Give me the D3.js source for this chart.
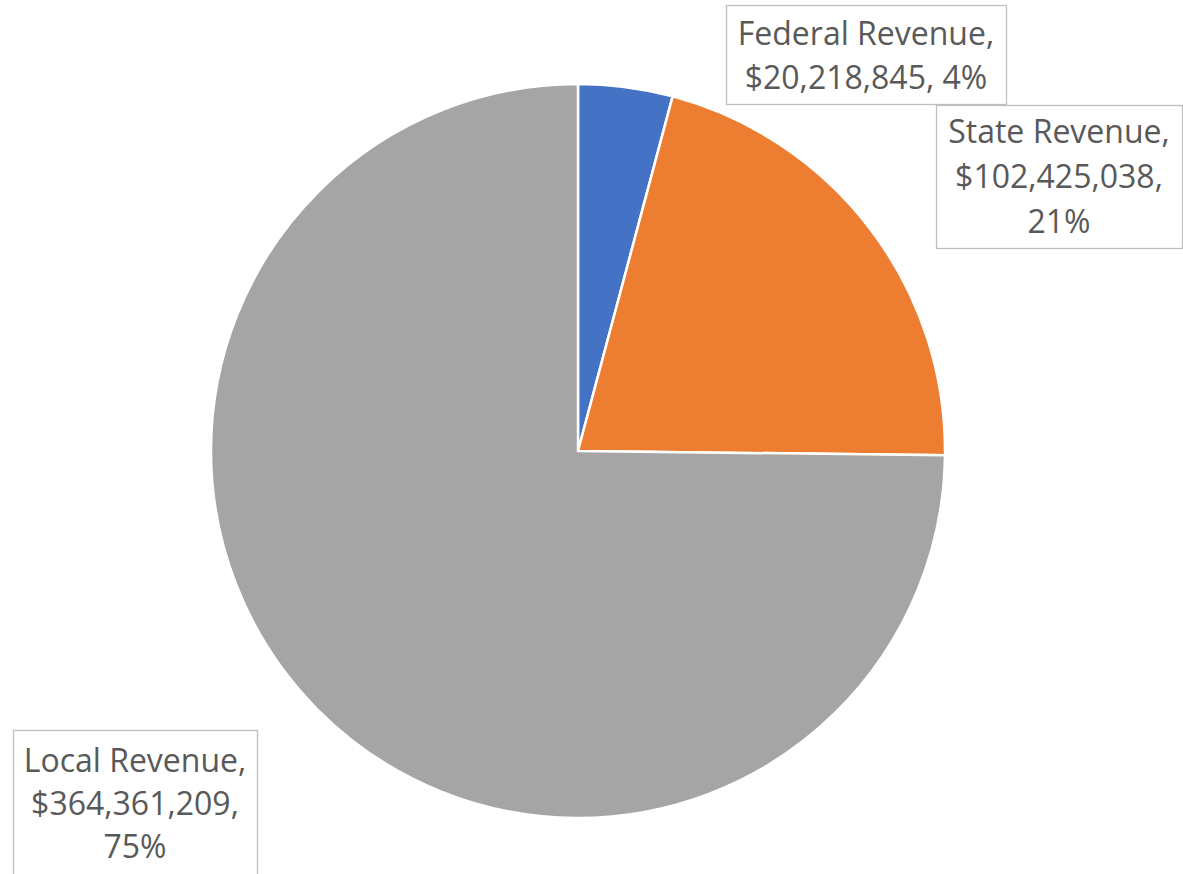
<!DOCTYPE html>
<html>
<head>
<meta charset="utf-8">
<script src="https://cdn.jsdelivr.net/npm/d3@7"></script>
<style>
  html, body { margin: 0; padding: 0; background: #fff; }
  svg { display: block; }
  text { font-family: "Open Sans", "Noto Sans", sans-serif; fill: #595959; }
</style>
</head>
<body>
<svg id="chart" width="1183" height="874"></svg>
<script>
// Revenue sources and amounts
const categories = ["Federal Revenue", "State Revenue", "Local Revenue"];
const revenue = [20218845, 102425038, 364361209];
const colors = ["#4472C4", "#ED7D31", "#A5A5A5"];

const W = 1183, H = 874;
const cx = 578, cy = 451, radius = 367;

const svg = d3.select("#chart");

const data = categories.map((c, i) => ({ name: c, value: revenue[i], color: colors[i] }));
const total = d3.sum(revenue);

const pie = d3.pie().sort(null).value(d => d.value).startAngle(0).endAngle(2 * Math.PI);
const arc = d3.arc().innerRadius(0).outerRadius(radius);

const g = svg.append("g").attr("transform", `translate(${cx},${cy})`);
g.selectAll("path")
  .data(pie(data))
  .join("path")
  .attr("d", arc)
  .attr("fill", d => d.data.color)
  .attr("stroke", "#fff")
  .attr("stroke-width", 2.5)
  .attr("stroke-linejoin", "round");

// Data label callouts: box rectangle plus centred text lines
const money = d3.format("$,");
const pct = v => Math.round(v / total * 100) + "%";

const labelLayout = [
  { box: [726, 5, 280, 99], lines: d => [d.name + ",", money(d.value) + ", " + pct(d.value)], baseline: 45, step: 43.5 },
  { box: [936, 105, 246, 143], lines: d => [d.name + ",", money(d.value) + ",", pct(d.value)], baseline: 143, step: 45 },
  { box: [13, 730, 244, 160], lines: d => [d.name + ",", money(d.value) + ",", pct(d.value)], baseline: 772, step: 43 }
];

data.forEach((d, i) => {
  const L = labelLayout[i];
  const [x, y, w, h] = L.box;
  svg.append("rect")
    .attr("x", x + 0.5).attr("y", y + 0.5)
    .attr("width", w).attr("height", h)
    .attr("fill", "#fff")
    .attr("stroke", "#BFBFBF")
    .attr("stroke-width", 1.3);
  L.lines(d).forEach((t, k) => {
    svg.append("text")
      .attr("x", x + w / 2)
      .attr("y", L.baseline + k * L.step)
      .attr("text-anchor", "middle")
      .attr("font-size", 32)
      .text(t);
  });
});
</script>
</body>
</html>
